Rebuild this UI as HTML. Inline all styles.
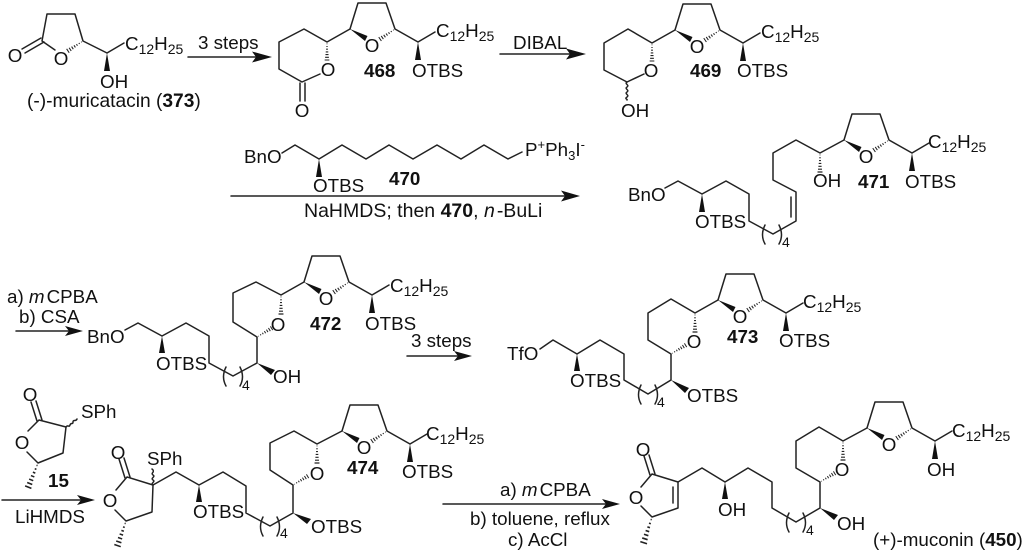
<!DOCTYPE html>
<html><head><meta charset="utf-8"><title>Muconin synthesis</title>
<style>
html,body{margin:0;padding:0;background:#fff}
svg{display:block}
text{font-family:"Liberation Sans",sans-serif;font-size:18.8px;fill:#111}
.b{font-weight:bold}
.c{text-anchor:middle}
.l{fill:none;stroke:#222;stroke-width:1.5;stroke-linejoin:round;stroke-linecap:round}
.w{fill:#111;stroke:none}
</style></head><body>
<svg width="1024" height="553" viewBox="0 0 1024 553" xmlns="http://www.w3.org/2000/svg">
<defs>
<g id="h" stroke="#222" stroke-width="1.2" fill="none">
<path d="M-.4 2H.4M-.7 5H.7M-1 8H1M-1.4 11H1.4M-1.7 14H1.7M-2.1 17H2.1M-2.6 20H2.6"/>
</g>
<g id="f">
<polyline class="l" points="0,0 8,-26 36,-26 45,0 68,13 85,3"/>
<polygon class="w" points="0,0 17.5,7 15,12"/>
<polygon class="w" points="68,13 65,31 71,31"/>
<use href="#h" transform="translate(45,0) rotate(56) scale(.9)"/>
</g>
<g id="p"><path class="l" d="M-7,-9Q-12,1 -7,10M7,-9Q12,1 7,10"/></g>
</defs>

<!-- 373 -->
<polyline class="l" points="55,50 42,41 47,14 75,14 83,41 107,53 124,43"/>
<path class="l" d="M41,38 22,49M44,42 25,53"/>
<use href="#h" transform="translate(83,41) rotate(57) scale(.9)"/>
<polygon class="w" points="107,53 104,71 110,71"/>
<text class="c" x="15" y="62">O</text>
<text class="c" x="61" y="65">O</text>
<text x="125" y="50">C<tspan dy="4" font-size="14">12</tspan><tspan dy="-4">H</tspan><tspan dy="4" font-size="14">25</tspan></text>
<text x="100" y="88">OH</text>
<text x="27" y="107" style="font-size:19.2px">(-)-muricatacin (<tspan class="b">373</tspan>)</text>

<!-- arrow 1 -->
<path class="l" d="M188,57H262"/><polygon class="w" points="272,57 252,51.5 256,57 252,62.5"/>
<text x="198" y="49">3 steps</text>

<!-- 468 -->
<polyline class="l" points="350,29 327,42 304,29 279,42 279,69 302,82 320,74"/>
<path class="l" d="M300,83V101M305,83V101"/>
<use href="#h" transform="translate(327,42) scale(.9)"/>
<text class="c" x="302" y="117">O</text>
<text class="c" x="328" y="76">O</text>
<use href="#f" transform="translate(350,29)"/>
<text class="c" x="372" y="52">O</text>
<text class="b" x="364" y="77">468</text>
<text x="412" y="77">OTBS</text>
<text x="436" y="37">C<tspan dy="4" font-size="14">12</tspan><tspan dy="-4">H</tspan><tspan dy="4" font-size="14">25</tspan></text>

<!-- DIBAL -->
<path class="l" d="M500,54H576"/><polygon class="w" points="586,54 566,48.5 570,54 566,59.5"/>
<text x="513" y="49">DIBAL</text>

<!-- 469 -->
<polyline class="l" points="675,30 652,43 628,29 604,43 604,70 627,82 644,74"/>
<path class="l" d="M627,82c-3,2 3,3 0,5s3,3 0,5 3,3 0,5 1,2 0,3"/>
<use href="#h" transform="translate(652,43) scale(.9)"/>
<text class="c" x="651" y="77">O</text>
<text x="621" y="117">OH</text>
<use href="#f" transform="translate(675,30)"/>
<text class="c" x="697" y="53">O</text>
<text class="b" x="690" y="77">469</text>
<text x="737" y="77">OTBS</text>
<text x="761" y="38">C<tspan dy="4" font-size="14">12</tspan><tspan dy="-4">H</tspan><tspan dy="4" font-size="14">25</tspan></text>

<!-- 470 -->
<polyline class="l" points="282,153 295,145 319,159 342,145 366,159 389,145 413,159 437,145 461,159 484,145 508,159 522,152"/>
<polygon class="w" points="319,159 316,177 322,177"/>
<text x="244" y="163">BnO</text>
<text x="313" y="192">OTBS</text>
<text class="b" x="389" y="185">470</text>
<text x="525" y="156">P<tspan dy="-7" font-size="13">+</tspan><tspan dy="7">Ph</tspan><tspan dy="4" font-size="13">3</tspan><tspan dy="-4">I</tspan><tspan dy="-7" font-size="13">-</tspan></text>
<path class="l" d="M231,196H572"/><polygon class="w" points="580,196 561,190.5 565,196 561,201.5"/>
<text x="304" y="217" style="font-size:19.5px">NaHMDS; then <tspan class="b">470</tspan>, <tspan font-style="italic">n</tspan><tspan dx="2">-BuLi</tspan></text>

<!-- 471 -->
<polyline class="l" points="665,188 678,181 702,194 726,181 749,194 749,221 773,234 796,221 796,192 773,180 773,153 796,140 820,153 844,140"/>
<path class="l" d="M791,197V217"/>
<polygon class="w" points="702,194 699,212 705,212"/>
<use href="#h" transform="translate(820,153) scale(.95)"/>
<use href="#p" transform="translate(772,234)"/>
<text x="628" y="201">BnO</text>
<text x="695" y="228">OTBS</text>
<text x="782" y="247" style="font-size:14px">4</text>
<text x="813" y="187">OH</text>
<text class="b" x="858" y="188">471</text>
<use href="#f" transform="translate(844,140)"/>
<text class="c" x="866" y="163">O</text>
<text x="905" y="188">OTBS</text>
<text x="928" y="148">C<tspan dy="4" font-size="14">12</tspan><tspan dy="-4">H</tspan><tspan dy="4" font-size="14">25</tspan></text>

<!-- mCPBA arrow -->
<path class="l" d="M16,331H76"/><polygon class="w" points="83,331 65,326 69,331 65,336"/>
<text x="7" y="303">a) <tspan font-style="italic">m</tspan><tspan dx="2">CPBA</tspan></text>
<text x="19" y="323">b) CSA</text>

<!-- 472 -->
<polyline class="l" points="125,330 138,323 162,336 186,323 209,336 209,363 233,376 257,363 257,337 233,322 233,293 256,282 281,295 304,282"/>
<polygon class="w" points="162,336 159,353 165,353"/>
<polygon class="w" points="257,363 275,370 271,375"/>
<use href="#h" transform="translate(281,295) scale(.95)"/>
<use href="#h" transform="translate(257,337) rotate(-121) scale(.85)"/>
<use href="#p" transform="translate(233,376)"/>
<text x="87" y="343">BnO</text>
<text x="156" y="370">OTBS</text>
<text x="242" y="390" style="font-size:14px">4</text>
<text x="273" y="383">OH</text>
<text class="c" x="278" y="331">O</text>
<text class="b" x="310" y="330">472</text>
<use href="#f" transform="translate(304,282)"/>
<text class="c" x="326" y="305">O</text>
<text x="365" y="330">OTBS</text>
<text x="390" y="292">C<tspan dy="4" font-size="14">12</tspan><tspan dy="-4">H</tspan><tspan dy="4" font-size="14">25</tspan></text>

<!-- 3 steps -->
<path class="l" d="M407,356H464"/><polygon class="w" points="472,356 454,351 458,356 454,361"/>
<text x="411" y="347">3 steps</text>

<!-- 473 -->
<polyline class="l" points="540,349 553,340 577,354 600,340 624,354 624,380 648,394 671,380 671,354 648,340 648,313 671,299 695,313 718,300"/>
<polygon class="w" points="577,354 574,371 580,371"/>
<polygon class="w" points="671,380 689,388 685,393"/>
<use href="#h" transform="translate(695,313) scale(.95)"/>
<use href="#h" transform="translate(671,354) rotate(-121) scale(.85)"/>
<use href="#p" transform="translate(648,394)"/>
<text x="507" y="360">TfO</text>
<text x="570" y="387">OTBS</text>
<text x="657" y="407" style="font-size:14px">4</text>
<text x="687" y="402">OTBS</text>
<text class="c" x="694" y="348">O</text>
<text class="b" x="727" y="343">473</text>
<use href="#f" transform="translate(718,300)"/>
<text class="c" x="740" y="323">O</text>
<text x="779" y="347">OTBS</text>
<text x="803" y="308">C<tspan dy="4" font-size="14">12</tspan><tspan dy="-4">H</tspan><tspan dy="4" font-size="14">25</tspan></text>

<!-- 15 -->
<polyline class="l" points="28,431 39,420 66,427 63,453 38,463 27,452"/>
<path class="l" d="M37,421 31,402M42,420 36,401"/>
<path class="l" d="M66,427c2,-3 3,1 4,-2s3,0 3,-3 3,0 4,-3"/>
<use href="#h" transform="translate(38,463) rotate(22) scale(1.3)"/>
<text class="c" x="30" y="401">O</text>
<text class="c" x="22" y="449">O</text>
<text x="81" y="418">SPh</text>
<text class="b" x="48" y="487">15</text>
<path class="l" d="M2,500H88"/><polygon class="w" points="95,500 77,495 81,500 77,505"/>
<text x="15" y="523">LiHMDS</text>

<!-- 474 -->
<polyline class="l" points="116,490 127,477 153,485 152,512 126,521 115,510"/>
<path class="l" d="M125,478 119,459M130,477 124,458"/>
<path class="l" d="M153,485c-3,-2 3,-3 0,-5s3,-3 0,-5 3,-3 -1,-6"/>
<use href="#h" transform="translate(126,521) rotate(19) scale(1.3)"/>
<text class="c" x="118" y="459">O</text>
<text class="c" x="110" y="507">O</text>
<text x="147" y="465">SPh</text>
<polyline class="l" points="153,485 176,472 199,485 223,472 246,486 246,513 270,526 293,513 293,485 270,470 270,443 294,431 317,444 342,431"/>
<polygon class="w" points="199,485 196,502 202,502"/>
<polygon class="w" points="293,513 311,519 307,524"/>
<use href="#h" transform="translate(317,444) scale(.95)"/>
<use href="#h" transform="translate(293,485) rotate(-121) scale(.85)"/>
<use href="#p" transform="translate(270,526)"/>
<text x="193" y="518">OTBS</text>
<text x="280" y="538" style="font-size:14px">4</text>
<text x="311" y="533">OTBS</text>
<text class="c" x="317" y="480">O</text>
<text class="b" x="347" y="474">474</text>
<use href="#f" transform="translate(342,431)"/>
<text class="c" x="364" y="454">O</text>
<text x="402" y="478">OTBS</text>
<text x="426" y="440">C<tspan dy="4" font-size="14">12</tspan><tspan dy="-4">H</tspan><tspan dy="4" font-size="14">25</tspan></text>

<!-- last arrow -->
<path class="l" d="M443,504H612"/><polygon class="w" points="620,504 602,499 606,504 602,509"/>
<text x="500" y="496">a) <tspan font-style="italic">m</tspan><tspan dx="2">CPBA</tspan></text>
<text x="470" y="525">b) toluene, reflux</text>
<text x="508" y="546">c) AcCl</text>

<!-- muconin -->
<polyline class="l" points="641,487 652,474 678,482 678,508 652,517 641,506"/>
<path class="l" d="M650,475 644,456M655,474 649,455M673,487V503"/>
<use href="#h" transform="translate(652,517) rotate(18) scale(1.35)"/>
<text class="c" x="643" y="456">O</text>
<text class="c" x="636" y="504">O</text>
<polyline class="l" points="678,482 702,468 725,482 748,468 772,482 772,508 796,522 820,508 820,482 796,468 796,441 819,427 843,441 867,428"/>
<polygon class="w" points="725,482 722,499 728,499"/>
<polygon class="w" points="820,508 838,515 834,520"/>
<use href="#h" transform="translate(843,441) scale(.95)"/>
<use href="#h" transform="translate(820,482) rotate(-121) scale(.85)"/>
<use href="#p" transform="translate(796,522)"/>
<text x="718" y="516">OH</text>
<text x="806" y="535" style="font-size:14px">4</text>
<text x="837" y="530">OH</text>
<text class="c" x="842" y="476">O</text>
<use href="#f" transform="translate(867,428)"/>
<text class="c" x="889" y="451">O</text>
<text x="927" y="476">OH</text>
<text x="952" y="437">C<tspan dy="4" font-size="14">12</tspan><tspan dy="-4">H</tspan><tspan dy="4" font-size="14">25</tspan></text>
<text x="873" y="546">(+)-muconin (<tspan class="b">450</tspan>)</text>
</svg>
</body></html>
